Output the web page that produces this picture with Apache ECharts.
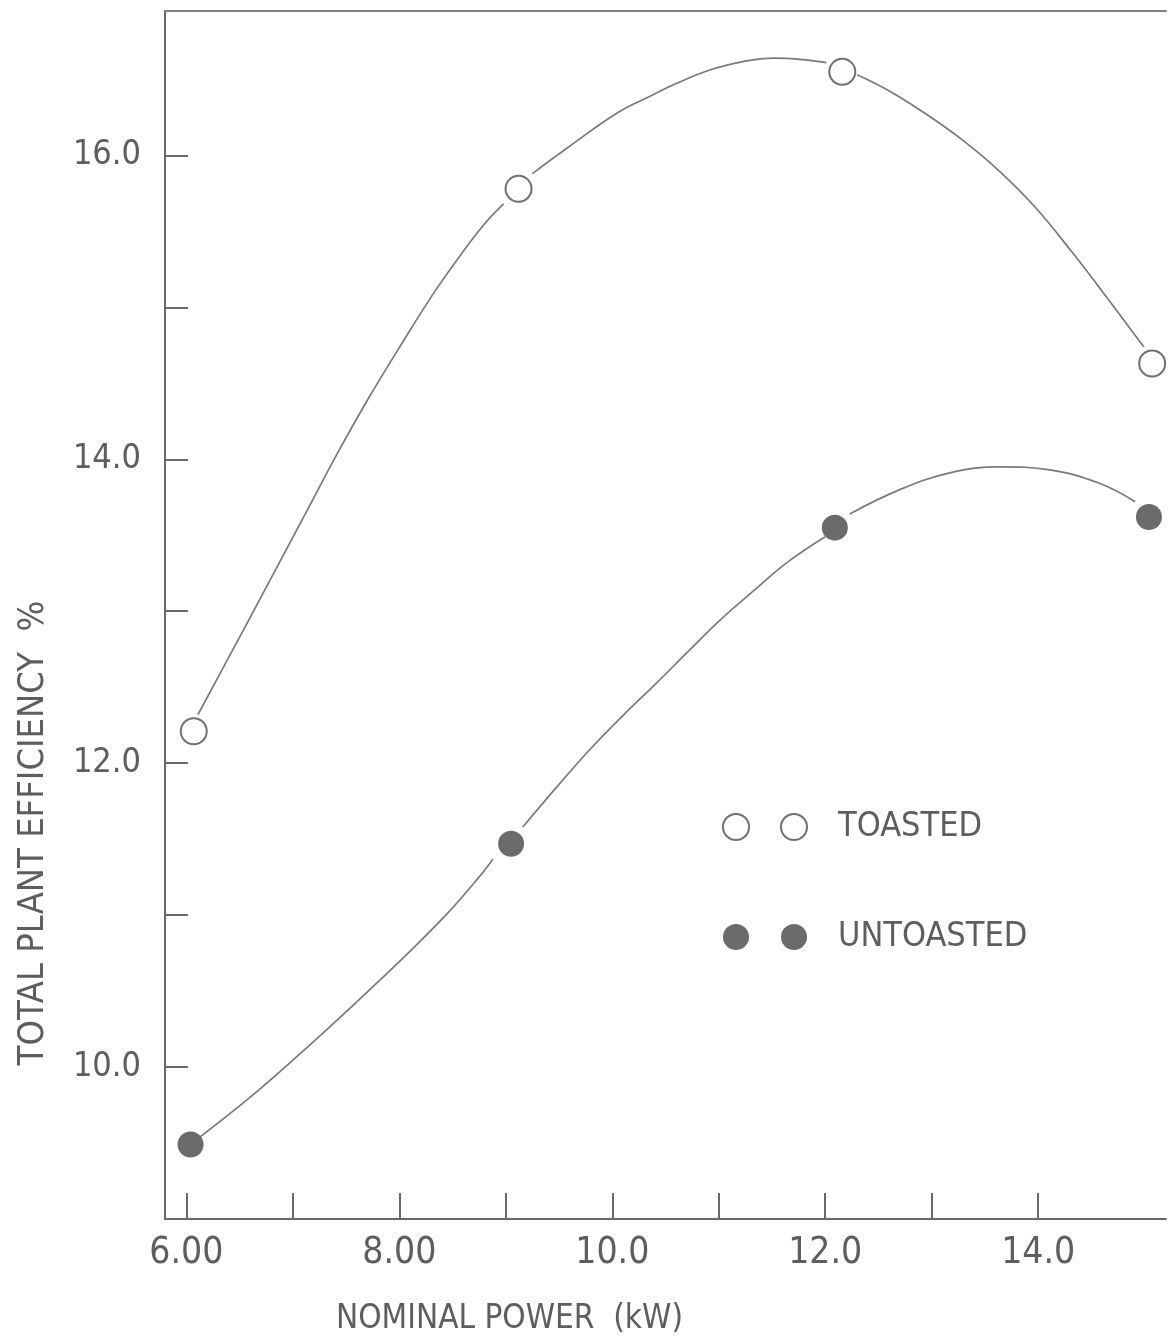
<!DOCTYPE html>
<html>
<head>
<meta charset="utf-8">
<script src="https://cdn.jsdelivr.net/npm/echarts@6/dist/echarts.min.js"></script>
<style>
  html, body { margin: 0; padding: 0; background: #ffffff; }
  #chart { width: 1168px; height: 1340px; }
</style>
</head>
<body>
<div id="chart"></div>
<script>
// ---- data ----
const seriesNames = ['TOASTED', 'UNTOASTED'];

// measured points (nominal power kW, total plant efficiency %)
const toastedPoints = [[6.07, 12.21], [9.12, 15.78], [12.16, 16.55], [15.07, 14.63]];
const untoastedPoints = [[6.04, 9.49], [9.05, 11.47], [12.09, 13.55], [15.04, 13.62]];

// hand-drawn fitted curves (null = pen lifted near a marker)
const toastedCurve = [
  [6.11, 12.32], [6.44, 12.75], [6.76, 13.17], [7.14, 13.67], [7.42, 14.04], [7.71, 14.40],
  [8.04, 14.78], [8.32, 15.09], [8.54, 15.31], [8.79, 15.54], [8.98, 15.68],
  null,
  [9.25, 15.88], [9.58, 16.05], [10.05, 16.28], [10.36, 16.39], [10.56, 16.46], [10.91, 16.56],
  [11.25, 16.62], [11.52, 16.64], [11.79, 16.63], [12.01, 16.61],
  null,
  [12.30, 16.53], [12.61, 16.42], [12.95, 16.27], [13.29, 16.10], [13.63, 15.90], [13.97, 15.66],
  [14.31, 15.37], [14.65, 15.06], [14.99, 14.74]
];
const untoastedCurve = [
  [6.13, 9.54], [6.58, 9.79], [7.04, 10.07], [7.51, 10.37], [7.98, 10.68], [8.45, 11.01],
  [8.76, 11.26], [8.88, 11.37],
  null,
  [9.16, 11.58], [9.50, 11.86], [9.79, 12.09], [10.11, 12.32], [10.42, 12.53], [10.72, 12.74],
  [11.01, 12.94], [11.32, 13.13], [11.64, 13.32], [12.00, 13.49],
  null,
  [12.23, 13.64], [12.70, 13.80], [13.17, 13.91], [13.64, 13.95], [14.11, 13.93], [14.58, 13.84], [14.91, 13.72]
];

// axis ticks and labels
const xTickValues = [6, 7, 8, 9, 10, 11, 12, 13, 14];
const xLabelValues = [6, 8, 10, 12, 14];
const xLabelText = ['6.00', '8.00', '10.0', '12.0', '14.0'];
const yTickValues = [10, 11, 12, 13, 14, 15, 16];
const yLabelValues = [10, 12, 14, 16];
const yLabelText = ['10.0', '12.0', '14.0', '16.0'];
const xAxisTitle = 'NOMINAL POWER  (kW)';
const yAxisTitle = 'TOTAL PLANT EFFICIENCY  %';

// ---- styling ----
const FONT = "'DejaVu Sans Condensed', 'Liberation Sans Narrow', 'DejaVu Sans', sans-serif";
const INK = '#6a6a6a';
const TEXT = '#5e5e5e';
const LINE = '#7a7a7a';

function splitSegments(arr) {
  const segs = [[]];
  arr.forEach(p => { if (p === null) segs.push([]); else segs[segs.length - 1].push(p); });
  return segs.filter(s => s.length);
}

const curveSeries = [];
[[toastedCurve, 'toasted'], [untoastedCurve, 'untoasted']].forEach(([curve, key]) => {
  splitSegments(curve).forEach((seg, i) => curveSeries.push({
    name: key + '-curve-' + i, type: 'line', data: seg, smooth: 0.4,
    symbol: 'none', silent: true, lineStyle: { color: LINE, width: 1.7 }, z: 2
  }));
});

const twoCircles = 'path://M0,13A13,13 0 1,1 26,13A13,13 0 1,1 0,13Z M58,13A13,13 0 1,1 84,13A13,13 0 1,1 58,13Z';

const chart = echarts.init(document.getElementById('chart'), null, { renderer: 'canvas' });
chart.setOption({
  backgroundColor: '#ffffff',
  animation: false,
  grid: { left: 165, right: 2, top: 11, bottom: 121, outerBoundsMode: 'none', containLabel: false },
  xAxis: [{
    type: 'value', min: 5.8, max: 15.2,
    axisLine: { show: true, lineStyle: { color: INK, width: 2 } },
    axisTick: { show: true, inside: true, length: 26, customValues: xTickValues, lineStyle: { color: INK, width: 2 } },
    axisLabel: {
      customValues: xLabelValues, margin: 16,
      formatter: v => xLabelText[xLabelValues.indexOf(v)],
      color: TEXT, fontFamily: FONT, fontSize: 37
    },
    splitLine: { show: false },
    name: xAxisTitle, nameLocation: 'middle', nameGap: 84,
    nameTextStyle: { color: TEXT, fontFamily: FONT, fontSize: 33, padding: [0, 312, 0, 0] }
  }, {
    type: 'value', min: 5.8, max: 15.2, position: 'top',
    axisLine: { show: true, onZero: false, lineStyle: { color: '#808080', width: 2 } },
    axisTick: { show: false }, axisLabel: { show: false }, splitLine: { show: false }
  }],
  yAxis: {
    type: 'value', min: 9, max: 16.95,
    axisLine: { show: true, lineStyle: { color: INK, width: 2 } },
    axisTick: { show: true, inside: true, length: 23, customValues: yTickValues, lineStyle: { color: INK, width: 2 } },
    axisLabel: {
      customValues: yLabelValues, margin: 24,
      formatter: v => yLabelText[yLabelValues.indexOf(v)],
      color: TEXT, fontFamily: FONT, fontSize: 34
    },
    splitLine: { show: false },
    name: yAxisTitle, nameLocation: 'middle', nameGap: 113, nameRotate: 90,
    nameTextStyle: { color: TEXT, fontFamily: FONT, fontSize: 36, padding: [0, 436, 0, 0] }
  },
  legend: {
    data: [
      { name: seriesNames[0], icon: twoCircles },
      { name: seriesNames[1], icon: twoCircles }
    ],
    orient: 'vertical', left: 717, top: 805,
    itemWidth: 84, itemHeight: 26, itemGap: 76,
    textStyle: { color: TEXT, fontFamily: FONT, fontSize: 34, padding: [0, 0, 0, 26] },
    selectedMode: false
  },
  series: curveSeries.concat([
    {
      name: seriesNames[0], type: 'scatter', data: toastedPoints, symbol: 'circle', symbolSize: 26,
      itemStyle: { color: '#ffffff', borderColor: '#707070', borderWidth: 2, opacity: 1 }, z: 5
    },
    {
      name: seriesNames[1], type: 'scatter', data: untoastedPoints, symbol: 'circle', symbolSize: 26,
      itemStyle: { color: '#6b6b6b', borderColor: '#6b6b6b', borderWidth: 0, opacity: 1 }, z: 5
    }
  ])
});
</script>
</body>
</html>
